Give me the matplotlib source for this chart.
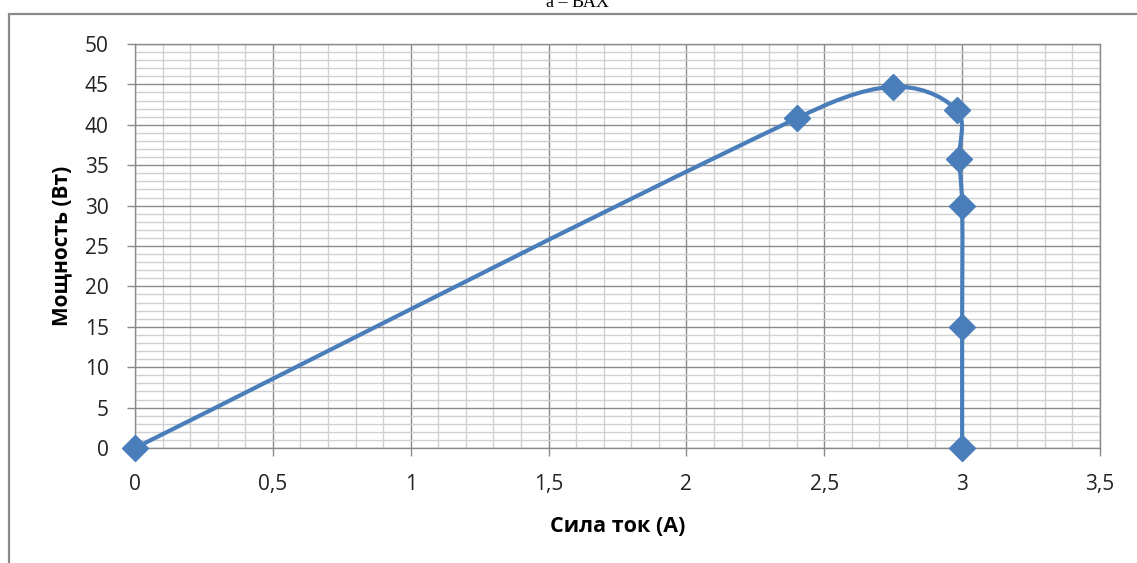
import matplotlib
matplotlib.use("Agg")
import matplotlib.pyplot as plt
import numpy as np
from matplotlib.path import Path
from matplotlib.patches import PathPatch, Rectangle

# measured points (current A, power W)
current = [0, 2.4, 2.75, 2.98, 2.99, 3.0, 3.0, 3.0]
power = [0, 40.8, 44.7, 41.8, 35.8, 30, 15, 0]

xticks = [0, 0.5, 1, 1.5, 2, 2.5, 3, 3.5]
xtick_labels = ["0", "0,5", "1", "1,5", "2", "2,5", "3", "3,5"]
yticks = [0, 5, 10, 15, 20, 25, 30, 35, 40, 45, 50]

title = "а – ВАХ"
xlabel = "Сила ток (А)"
ylabel = "Мощность (Вт)"

blue = "#4a7ebb"
major_gray = "#8a8a8a"
minor_gray = "#d0d0d0"

plt.rcParams['font.family'] = ['Open Sans', 'DejaVu Sans']

W, H = 1137, 563
fig = plt.figure(figsize=(W / 100, H / 100), dpi=100)
ax = fig.add_axes([135 / W, (H - 448) / H, 965 / W, 404 / H])

# outer chart frame (cut by the image edges)
fig.patches.append(Rectangle((9 / W, -0.1), 1.2, 1 + 0.1 - 14 / H,
                             transform=fig.transFigure, fill=False,
                             edgecolor=major_gray, linewidth=1.6))

fig.text(577 / W, 1 - 7 / H, title, family='Liberation Serif', fontsize=13,
         ha='center', va='baseline')


def smooth_path(xs, ys, sx, sy, k=0.33):
    # smoothed line: bezier segments, tangent from neighbours,
    # handle length taken from the segment itself (no overshoot)
    p = np.column_stack([np.array(xs) * sx, np.array(ys) * sy])
    n = len(p)
    tang = []
    for i in range(n):
        a = p[i - 1] if i > 0 else p[i]
        b = p[i + 1] if i + 1 < n else p[i]
        d = b - a
        tang.append(d / np.hypot(*d))
    verts = [p[0]]
    codes = [Path.MOVETO]
    for i in range(n - 1):
        seg = np.hypot(*(p[i + 1] - p[i]))
        c1 = p[i] + tang[i] * seg * k
        c2 = p[i + 1] - tang[i + 1] * seg * k
        verts += [c1, c2, p[i + 1]]
        codes += [Path.CURVE4] * 3
    verts = np.array(verts)
    verts[:, 0] /= sx
    verts[:, 1] /= sy
    return Path(verts, codes)


ax.set_xlim(0, 3.5)
ax.set_ylim(0, 50)

path = smooth_path(current, power, 965 / 3.5, 404 / 50)
ax.add_patch(PathPatch(path, fill=False, edgecolor=blue, linewidth=3.0,
                       capstyle='round', joinstyle='round', zorder=3, clip_on=False))
ax.plot(current, power, linestyle='none', marker='D', markersize=13,
        color=blue, zorder=4, clip_on=False)

ax.set_xticks(xticks, xtick_labels)
ax.set_yticks(yticks)
ax.set_xticks(np.arange(0, 3.51, 0.1), minor=True)
ax.set_yticks(np.arange(0, 50.1, 1), minor=True)

ax.grid(which='minor', color=minor_gray, linewidth=1.0)
ax.grid(which='major', color=major_gray, linewidth=1.0)
ax.set_axisbelow(True)

ax.tick_params(which='major', length=6, width=1, color=major_gray,
               labelsize=15, pad=13, labelcolor='#222222')
ax.tick_params(which='minor', length=0)

for s in ax.spines.values():
    s.set_color(major_gray)
    s.set_linewidth(1.0)

ax.set_xlabel(xlabel, fontsize=15.5, fontweight='bold', labelpad=15)
ax.set_ylabel(ylabel, fontsize=15, fontweight='bold', labelpad=9)

fig.savefig("out.png", dpi=100)
